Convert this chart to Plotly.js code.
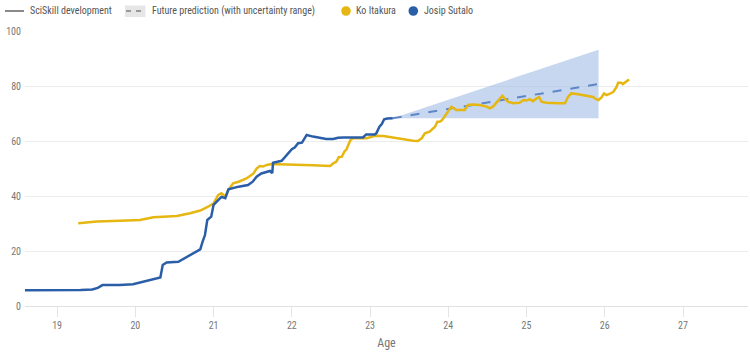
<!DOCTYPE html>
<html><head><meta charset="utf-8">
<script src="https://cdn.plot.ly/plotly-3.0.1.min.js"></script>
<style>html,body{margin:0;padding:0;background:#fff}#chart{width:750px;height:353px}</style>
</head><body><div id="chart"></div>
<script>
// Josip Sutalo
const josipAge = [18.59,19.0,19.3,19.45,19.52,19.58,19.8,19.97,20.06,20.23,20.32,20.35,20.4,20.55,20.63,20.74,20.83,20.86,20.89,20.92,20.97,21.0,21.04,21.1,21.15,21.19,21.32,21.44,21.5,21.55,21.61,21.72,21.75,21.76,21.87,21.93,22.0,22.04,22.08,22.13,22.17,22.19,22.27,22.44,22.53,22.59,22.66,22.91,22.95,23.06,23.08,23.12,23.15,23.18,23.22,23.29];
const josipSkill = [5.7,5.7,5.8,6.0,6.6,7.6,7.6,7.9,8.5,9.7,10.4,14.9,15.8,16.1,17.3,19.2,20.6,23.4,25.8,31.3,32.5,36.8,37.9,39.7,39.2,42.4,43.4,44.0,45.2,47.0,48.2,49.1,48.3,52.1,52.8,54.9,57.0,57.7,59.2,59.4,61.6,62.2,61.6,60.7,60.7,61.2,61.3,61.3,62.4,62.4,62.8,65.2,66.2,67.9,68.2,68.3];
// Ko Itakura
const koAge = [19.27,19.51,19.8,20.06,20.23,20.36,20.53,20.7,20.83,20.93,21.0,21.06,21.1,21.15,21.19,21.25,21.32,21.42,21.51,21.55,21.59,21.63,21.68,21.74,21.87,22.04,22.27,22.49,22.53,22.57,22.6,22.64,22.67,22.7,22.72,22.75,22.78,22.96,22.99,23.06,23.17,23.38,23.55,23.61,23.66,23.7,23.76,23.83,23.86,23.89,23.92,23.95,24.0,24.04,24.07,24.1,24.21,24.25,24.32,24.4,24.49,24.53,24.57,24.61,24.66,24.69,24.72,24.76,24.83,24.91,24.96,25.0,25.04,25.08,25.13,25.16,25.19,25.25,25.42,25.49,25.53,25.57,25.64,25.76,25.85,25.89,25.92,25.96,25.99,26.02,26.06,26.11,26.15,26.17,26.21,26.23,26.28,26.31];
const koSkill = [30.1,30.7,31.0,31.3,32.3,32.5,32.7,33.7,34.7,36.1,37.3,40.4,41.0,39.8,42.2,44.6,45.2,46.4,48.2,50.0,50.9,50.7,51.3,51.6,51.6,51.4,51.2,50.9,51.9,52.5,54.1,54.3,56.1,57.0,58.5,60.4,61.0,61.0,61.3,61.9,61.8,60.8,60.1,60.0,61.0,62.8,63.4,65.2,67.0,67.0,67.6,68.8,70.7,72.5,71.9,71.3,71.3,73.1,73.3,73.1,72.5,71.9,72.5,73.7,75.2,76.4,75.5,74.3,73.7,73.9,74.9,74.7,75.2,74.5,75.5,76.0,74.3,73.9,73.7,73.7,76.0,77.3,77.1,76.5,76.0,75.2,74.9,75.9,77.3,76.7,77.1,77.9,79.7,81.2,81.2,80.7,81.9,82.4];
// Prediction for Josip Sutalo
const predAge = [23.29, 25.92];
const predMid = [68.3, 80.7];
const predUpper = [68.3, 93.2];
const predLower = [68.3, 68.3];
const xTicks = [19,20,21,22,23,24,25,26,27];
const yTicks = [0,20,40,60,80,100];
const legendLabels = ['SciSkill development', 'Future prediction (with uncertainty range)', 'Ko Itakura', 'Josip Sutalo'];

const BLUE = '#2b5ea8', GOLD = '#e6b712', GREY = '#8a8a8a';
const FONT = '"Roboto Condensed", Roboto, sans-serif';
const W = 750, H = 353, M = {l:25, r:2, t:31, b:47};
const PW = W - M.l - M.r, PH = H - M.t - M.b;
const px = v => (v - M.l) / PW;          // container px -> paper x
const py = v => (H - M.b - v) / PH;      // container px -> paper y

const traces = [
  {x: predAge.concat(predAge.slice().reverse()), y: predUpper.concat(predLower.slice().reverse()),
   type:'scatter', mode:'lines', fill:'toself', fillcolor:'rgba(160,188,228,0.6)', line:{width:0}, showlegend:false, hoverinfo:'skip'},
  {x: predAge, y: predMid, type:'scatter', mode:'lines', line:{color:'#5f86c6', width:2, dash:'dash'}, showlegend:false},
  {x: koAge, y: koSkill, type:'scatter', mode:'lines', line:{color:GOLD, width:2.5}, showlegend:false},
  {x: josipAge, y: josipSkill, type:'scatter', mode:'lines', line:{color:BLUE, width:2.5}, showlegend:false}
];

// custom legend
const ly = 11;
const shapes = [
  {type:'line', xref:'paper', yref:'paper', x0:px(5), x1:px(24), y0:py(ly), y1:py(ly), line:{color:GREY, width:2}},
  {type:'rect', xref:'paper', yref:'paper', x0:px(125), x1:px(145.5), y0:py(17), y1:py(5.5), fillcolor:'#e6e6e6', line:{width:0}},
  {type:'line', xref:'paper', yref:'paper', x0:px(126), x1:px(145), y0:py(ly), y1:py(ly), line:{color:'#9a9a9a', width:2, dash:'5px,5px'}},
  {type:'circle', xref:'paper', yref:'paper', x0:px(341.2), x1:px(350.8), y0:py(15.8), y1:py(6.2), fillcolor:GOLD, line:{width:0}},
  {type:'circle', xref:'paper', yref:'paper', x0:px(408.5), x1:px(418.1), y0:py(15.8), y1:py(6.2), fillcolor:BLUE, line:{width:0}}
];
const textX = [29, 150.5, 354.5, 422.5];
const annotations = legendLabels.map((t,i)=>({xref:'paper', yref:'paper', x:px(textX[i]), y:py(ly), xanchor:'left', yanchor:'middle',
  showarrow:false, text:t, font:{size:10, color:'#555'}, borderpad:0}));

const layout = {
  width:W, height:H,
  margin:M,
  paper_bgcolor:'#fff', plot_bgcolor:'#fff',
  font:{family:FONT, size:10, color:'#666'},
  showlegend:false,
  shapes, annotations,
  xaxis:{range:[18.59,27.83], tickvals:xTicks, ticktext:xTicks.map(String), showgrid:false, zeroline:false,
         ticks:'outside', ticklen:10, tickcolor:'#e4e4e4', showline:true, linecolor:'#e0e0e0', linewidth:1,
         tickfont:{size:10, color:'#777'}, title:{text:'Age', font:{size:12, color:'#777'}, standoff:8}},
  yaxis:{range:[0,100], tickvals:yTicks, ticktext:yTicks.map(String), showgrid:true, gridcolor:'#ececec', zeroline:false,
         ticks:'', showline:false, tickfont:{size:10, color:'#777'}, ticklabelstandoff:3}
};
Plotly.newPlot('chart', traces, layout, {displayModeBar:false, staticPlot:true});
</script></body></html>
